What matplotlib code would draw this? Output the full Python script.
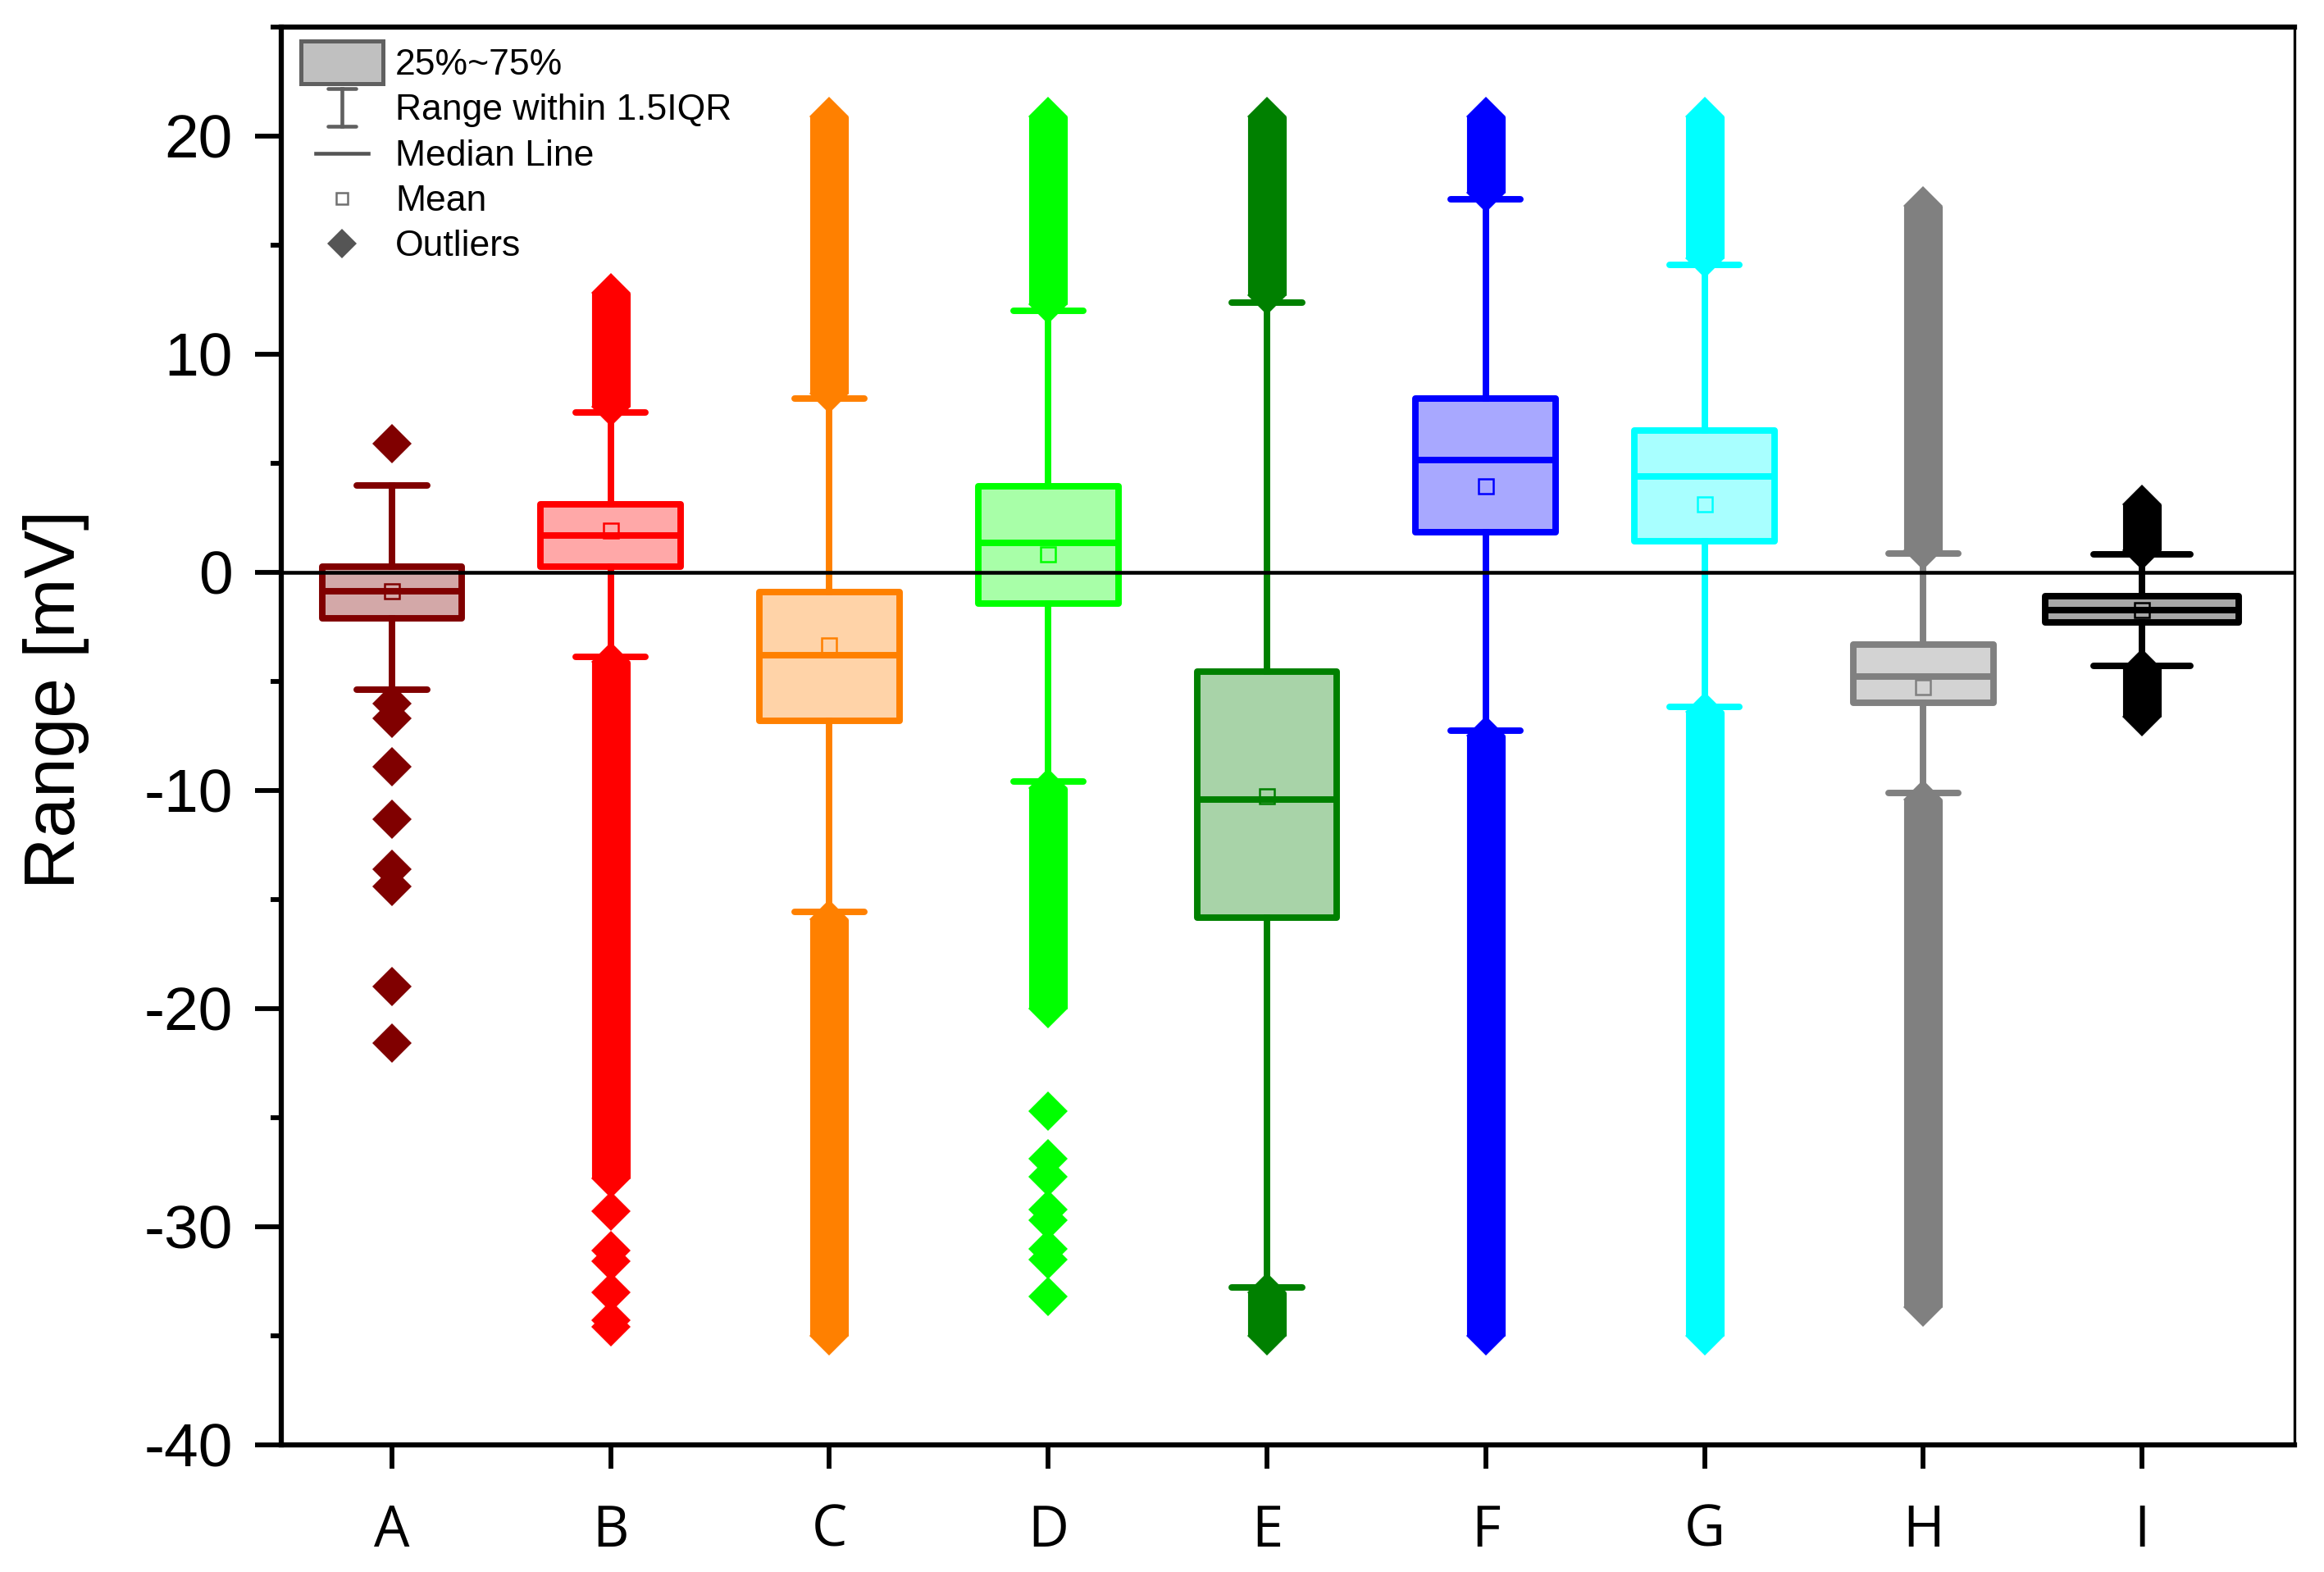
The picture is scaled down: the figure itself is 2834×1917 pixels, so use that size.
import numpy as np
import matplotlib
matplotlib.use('Agg')
import matplotlib.pyplot as plt
from matplotlib.ticker import MultipleLocator
from matplotlib.legend_handler import HandlerBase
from matplotlib.lines import Line2D
from matplotlib.patches import Rectangle
from matplotlib.colors import to_rgba

plt.rcParams['font.family'] = ['Liberation Sans', 'DejaVu Sans']
plt.rcParams['axes.unicode_minus'] = False

# box statistics (mV)
groups = ['A', 'B', 'C', 'D', 'E', 'F', 'G', 'H', 'I']
q1 = [-2.09, 0.27, -6.8, -1.43, -15.84, 1.83, 1.42, -5.98, -2.3]
q3 = [0.27, 3.13, -0.89, 3.94, -4.56, 7.95, 6.52, -3.3, -1.1]
medians = [-0.85, 1.69, -3.8, 1.35, -10.4, 5.16, 4.41, -4.76, -1.72]
means = [-0.85, 1.9, -3.33, 0.81, -10.27, 3.94, 3.12, -5.27, -1.75]
whisk_lo = [-5.36, -3.88, -15.57, -9.59, -32.8, -7.27, -6.18, -10.1, -4.3]
whisk_hi = [3.97, 7.33, 7.95, 12.0, 12.36, 17.1, 14.1, 0.85, 0.82]

# outliers that are so dense they merge into a solid band (first / last value)
up_band_lo = [np.nan, 7.6, 8.2, 12.3, 12.7, 17.4, 14.4, 1.0, 1.0]
up_band_hi = [np.nan, 12.8, 20.9, 20.9, 20.9, 20.9, 20.9, 16.8, 3.1]
low_band_hi = [np.nan, -4.1, -15.9, -9.9, -33.0, -7.5, -6.4, -10.4, -4.4]
low_band_lo = [np.nan, -27.8, -35.0, -20.0, -35.0, -35.0, -35.0, -33.7, -6.6]

# single outliers that can be told apart
outliers_A = [5.9, -6.0, -6.7, -8.9, -11.3, -13.6, -14.4, -19.0, -21.6]
outliers_B = [-29.3, -31.1, -31.6, -33.0, -34.3, -34.6]
outliers_D = [-24.7, -26.9, -27.7, -29.2, -29.7, -31.0, -31.5, -33.2]

colors = ['#800000', '#FF0000', '#FF8000', '#00FF00', '#008000',
          '#0000FF', '#00FFFF', '#808080', '#000000']
box_w = [0.64, 0.64, 0.64, 0.64, 0.64, 0.64, 0.64, 0.64, 0.885]

fig = plt.figure(figsize=(2834/300, 1917/300), dpi=300)
ax = fig.add_axes([0.1210, 0.0809, 0.8663, 0.9019])

xpos = np.arange(1, len(groups) + 1)
lw = 1.9
dms = 8.0  # diamond size

for i in range(len(groups)):
    c = colors[i]
    st = [dict(med=medians[i], q1=q1[i], q3=q3[i], whislo=whisk_lo[i],
               whishi=whisk_hi[i], mean=means[i], fliers=[])]
    ax.bxp(st, positions=[xpos[i]], widths=box_w[i], capwidths=box_w[i]*0.5,
           patch_artist=True, showmeans=True, showfliers=False, manage_ticks=False,
           boxprops=dict(facecolor=to_rgba(c, 0.34), edgecolor=c, linewidth=lw, joinstyle='round'),
           whiskerprops=dict(color=c, linewidth=lw),
           capprops=dict(color=c, linewidth=lw, solid_capstyle='round'),
           medianprops=dict(color=c, linewidth=lw),
           meanprops=dict(marker='s', markerfacecolor='none', markeredgecolor=c,
                          markersize=4.5, markeredgewidth=0.6))
    #dense outliers -> thick bar capped by a diamond at each end
    for lo, hi in [(up_band_lo[i], up_band_hi[i]), (low_band_lo[i], low_band_hi[i])]:
        if np.isnan(lo):
            continue
        ax.plot([xpos[i], xpos[i]], [lo, hi], color=c, lw=dms*1.414,
                solid_capstyle='butt', marker='D', ms=dms, mew=0, zorder=3)

for g, vals in [('A', outliers_A), ('B', outliers_B), ('D', outliers_D)]:
    i = groups.index(g)
    ax.plot(np.full(len(vals), xpos[i]), vals, ls='none', marker='D', ms=dms,
            mew=0, color=colors[i], zorder=3)

ax.axhline(0, color='black', lw=1.1, zorder=5)

ax.set_xlim(0.494, 9.697)
ax.set_ylim(-40, 25)
ax.set_yticks(np.arange(-40, 21, 10))
ax.yaxis.set_minor_locator(MultipleLocator(5))
ax.set_xticks(xpos)
ax.set_xticklabels(groups, family=['Open Sans', 'DejaVu Sans'])
ax.tick_params(axis='y', which='major', length=7.7, width=1.4, labelsize=18, pad=6.5)
ax.tick_params(axis='y', which='minor', length=3.2, width=1.4)
ax.tick_params(axis='x', which='major', length=7, width=1.4, labelsize=16.5, pad=10)
for s in ['left', 'bottom', 'top']:
    ax.spines[s].set_linewidth(1.5)
ax.spines['right'].set_linewidth(0.8)

fig.text(0.024, 0.555, 'Range [mV]', rotation=90, ha='center', va='center', fontsize=21)


class KeyHandler(HandlerBase):
    def __init__(self, kind):
        super().__init__()
        self.kind = kind

    def create_artists(self, legend, orig_handle, xdescent, ydescent, width, height, fontsize, trans):
        cx = -xdescent + width/2
        cy = -ydescent + height/2
        gr = '#606060'
        if self.kind == 'box':
            art = [Rectangle((cx - 12, cy - 6.2), 24, 12.4, facecolor='#C0C0C0',
                             edgecolor=gr, lw=1.2, transform=trans)]
        elif self.kind == 'range':
            art = [Line2D([cx, cx], [cy - 5.5, cy + 5.5], color=gr, lw=1.1, transform=trans),
                   Line2D([cx - 4, cx + 4], [cy + 5.5, cy + 5.5], color=gr, lw=1.1,
                          solid_capstyle='round', transform=trans),
                   Line2D([cx - 4, cx + 4], [cy - 5.5, cy - 5.5], color=gr, lw=1.1,
                          solid_capstyle='round', transform=trans)]
        elif self.kind == 'median':
            art = [Line2D([cx - 7.7, cx + 7.7], [cy, cy], color='#555555', lw=1.1, transform=trans)]
        elif self.kind == 'mean':
            art = [Line2D([cx], [cy], marker='s', ms=3.4, mfc='white', mec='#707070',
                          mew=0.6, transform=trans)]
        else:
            art = [Line2D([cx], [cy], marker='D', ms=6.1, color='#555555', mew=0, transform=trans)]
        return art


kinds = ['box', 'range', 'median', 'mean', 'out']
labels = ['25%~75%', 'Range within 1.5IQR', 'Median Line', 'Mean', 'Outliers']
handles = [Line2D([], []) for k in kinds]
hmap = {h: KeyHandler(k) for h, k in zip(handles, kinds)}
ax.legend(handles, labels, handler_map=hmap, loc='upper left', bbox_to_anchor=(0.0098, 0.9884),
          frameon=False, fontsize=10.7, borderpad=0, borderaxespad=0, handlelength=2.24,
          handleheight=1.2, handletextpad=0.34, labelspacing=0.19)

fig.savefig('out.png', dpi=300)
